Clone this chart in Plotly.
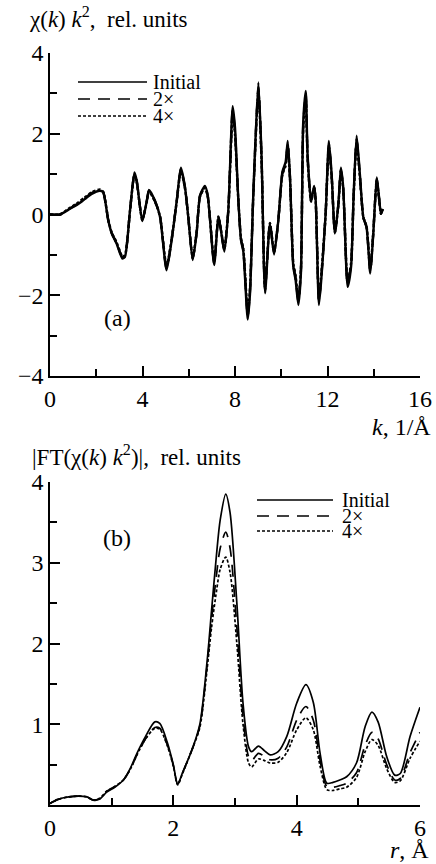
import plotly.graph_objects as go

# ---------------- Panel (a): chi(k) k^2 ----------------
k_a = [0, 0.43, 0.8, 1.22, 1.5, 1.8, 2.16, 2.3, 2.52, 2.67, 2.88, 3.13, 3.24, 3.46, 3.65, 3.75,
       3.99, 4.18, 4.28, 4.54, 4.76, 5.04, 5.26, 5.48, 5.66, 5.84, 5.98, 6.17, 6.34, 6.49, 6.7,
       6.82, 7.1, 7.28, 7.39, 7.54, 7.71, 7.9, 8.0, 8.14, 8.26, 8.36, 8.55, 8.65, 8.79, 9.01,
       9.15, 9.3, 9.51, 9.69, 9.87, 10.05, 10.19, 10.28, 10.38, 10.52, 10.62, 10.74, 10.85,
       10.95, 11.06, 11.14, 11.29, 11.42, 11.49, 11.63, 11.75, 11.92, 12.06, 12.18, 12.32,
       12.47, 12.58, 12.68, 12.87, 13.02, 13.13, 13.26, 13.41, 13.55, 13.69, 13.85, 13.98,
       14.13, 14.23, 14.31, 14.39]
chi_init = [0, 0, 0.12, 0.26, 0.38, 0.51, 0.59, 0.55, -0.15, -0.47, -0.72, -1.09, -1.05, 0.1,
            1.04, 0.84, -0.16, 0.32, 0.61, 0.34, -0.06, -1.38, -0.64, 0.34, 1.16, 0.67, -0.07,
            -1.13, -0.47, 0.48, 0.71, 0.48, -1.25, -0.06, -0.39, -0.92, 0.1, 2.68, 2.15, 0.42,
            -0.64, -0.92, -2.6, -1.95, 0.48, 3.27, 1.42, -1.95, -0.23, -0.99, -0.17, 1.06, 1.3,
            1.82, 0.92, -1.29, -1.62, -2.24, -1.46, 2.29, 3.06, 1.47, 0.34, 0.71, 0.34, -2.24,
            -1.46, 0.02, 1.82, 0.99, -0.47, 0.26, 1.16, 0.67, -1.79, -1.29, 0.48, 1.95, 0.92,
            -0.07, -0.32, -1.46, -0.47, 0.92, 0.42, 0.02, 0.14]
chi_2x = [0, 0, 0.13, 0.28, 0.4, 0.53, 0.6, 0.55, -0.14, -0.46, -0.7, -1.06, -1.03, 0.1,
          1.0, 0.82, -0.14, 0.31, 0.59, 0.33, -0.06, -1.33, -0.62, 0.33, 1.12, 0.65, -0.06,
          -1.09, -0.45, 0.46, 0.68, 0.46, -1.2, -0.06, -0.37, -0.88, 0.1, 2.58, 2.05, 0.4,
          -0.61, -0.88, -2.5, -1.87, 0.46, 3.15, 1.36, -1.87, -0.22, -0.95, -0.16, 1.02, 1.25,
          1.74, 0.88, -1.24, -1.56, -2.14, -1.4, 2.2, 2.95, 1.41, 0.33, 0.68, 0.33, -2.14,
          -1.4, 0.02, 1.74, 0.95, -0.45, 0.25, 1.11, 0.64, -1.71, -1.23, 0.46, 1.86, 0.88,
          -0.07, -0.31, -1.4, -0.45, 0.88, 0.4, 0.02, 0.13]
chi_4x = [0, 0, 0.14, 0.3, 0.42, 0.55, 0.62, 0.56, -0.13, -0.45, -0.69, -1.04, -1.01, 0.09,
          0.97, 0.8, -0.13, 0.3, 0.57, 0.32, -0.05, -1.29, -0.6, 0.32, 1.09, 0.63, -0.06,
          -1.06, -0.44, 0.45, 0.66, 0.45, -1.16, -0.05, -0.36, -0.85, 0.09, 2.5, 1.98, 0.39,
          -0.59, -0.85, -2.42, -1.81, 0.45, 3.05, 1.32, -1.81, -0.21, -0.92, -0.16, 0.99, 1.21,
          1.69, 0.85, -1.2, -1.51, -2.08, -1.36, 2.13, 2.86, 1.37, 0.32, 0.66, 0.32, -2.08,
          -1.36, 0.02, 1.69, 0.92, -0.44, 0.24, 1.08, 0.62, -1.66, -1.2, 0.45, 1.8, 0.85,
          -0.07, -0.3, -1.36, -0.44, 0.85, 0.39, 0.02, 0.13]

# ---------------- Panel (b): |FT(chi(k) k^2)| ----------------
r_b = [0, 0.13, 0.3, 0.46, 0.6, 0.7, 0.8, 0.92, 1.05, 1.19, 1.3, 1.41, 1.55, 1.7, 1.78, 1.9,
       2.0, 2.07, 2.15, 2.32, 2.43, 2.55, 2.62, 2.7, 2.76, 2.85, 2.92, 3.03, 3.13, 3.22, 3.27,
       3.38, 3.48, 3.57, 3.7, 3.84, 4.0, 4.15, 4.27, 4.38, 4.49, 4.59, 4.7, 4.81, 4.97, 5.11,
       5.22, 5.32, 5.46, 5.59, 5.68, 5.84, 6.0]
ft_init = [0.02, 0.07, 0.1, 0.11, 0.1, 0.06, 0.07, 0.16, 0.22, 0.31, 0.45, 0.64, 0.85, 1.03,
           1.01, 0.78, 0.5, 0.26, 0.4, 0.72, 1.0, 1.8, 2.41, 3.1, 3.53, 3.85, 3.62, 2.5, 1.26,
           0.72, 0.66, 0.73, 0.67, 0.62, 0.66, 0.85, 1.26, 1.49, 1.27, 0.64, 0.27, 0.28, 0.31,
           0.35, 0.52, 0.97, 1.15, 1.03, 0.6, 0.37, 0.39, 0.85, 1.21]
ft_2x = [0.02, 0.07, 0.1, 0.11, 0.1, 0.06, 0.08, 0.17, 0.23, 0.31, 0.44, 0.62, 0.82, 0.96,
         0.95, 0.75, 0.49, 0.26, 0.4, 0.72, 0.98, 1.75, 2.3, 2.85, 3.18, 3.38, 3.18, 2.2, 1.1,
         0.6, 0.55, 0.64, 0.6, 0.56, 0.58, 0.72, 1.05, 1.22, 1.05, 0.55, 0.23, 0.22, 0.24,
         0.27, 0.4, 0.74, 0.9, 0.82, 0.5, 0.31, 0.33, 0.65, 0.9]
ft_4x = [0.02, 0.07, 0.1, 0.11, 0.1, 0.06, 0.08, 0.17, 0.23, 0.31, 0.44, 0.62, 0.82, 0.95,
         0.94, 0.74, 0.48, 0.25, 0.39, 0.72, 0.96, 1.7, 2.2, 2.65, 2.92, 3.07, 2.88, 2.0, 1.0,
         0.52, 0.47, 0.57, 0.55, 0.52, 0.53, 0.65, 0.93, 1.08, 0.93, 0.48, 0.19, 0.18, 0.2,
         0.22, 0.34, 0.66, 0.81, 0.74, 0.45, 0.28, 0.3, 0.58, 0.79]

series_names = ["Initial", "2×", "4×"]
dashes = ["solid", "12px,8px", "3px,2px"]

FONT = "Liberation Serif"
W, H = 436, 864

def px(x):
    return x / W

def py(y):
    return 1 - y / H

fig = go.Figure()
for name, ys, d in zip(series_names, [chi_init, chi_2x, chi_4x], dashes):
    fig.add_trace(go.Scatter(x=k_a, y=ys, mode="lines", name=name, xaxis="x", yaxis="y",
                             line=dict(color="black", width=2.4, dash=d, shape="spline", smoothing=0.6),
                             showlegend=False))
for name, ys, d in zip(series_names, [ft_init, ft_2x, ft_4x], dashes):
    fig.add_trace(go.Scatter(x=r_b, y=ys, mode="lines", name=name, xaxis="x2", yaxis="y2",
                             line=dict(color="black", width=1.7, dash=d, shape="spline", smoothing=0.8),
                             showlegend=False))

def axis_common():
    return dict(showline=True, linecolor="black", linewidth=1.5, ticks="inside",
                tickcolor="black", tickwidth=1.5, ticklen=10, showgrid=False, zeroline=False,
                automargin=False,
                tickfont=dict(family=FONT, size=24, color="black"), mirror=False)

def minor(vals):
    return dict(tickvals=vals, ticks="inside", ticklen=7, tickcolor="black", tickwidth=1.5)

dom_x = [px(50), px(420)]
fig.update_layout(
    template="none",
    width=W, height=H, margin=dict(l=0, r=0, t=0, b=0, pad=0, autoexpand=False),
    paper_bgcolor="white", plot_bgcolor="white",
    font=dict(family=FONT, color="black", size=20),
    xaxis=dict(domain=dom_x, range=[0, 16], tickvals=[0, 4, 8, 12, 16], anchor="y",
               minor=minor([2, 6, 10, 14]), **axis_common()),
    yaxis=dict(domain=[py(376), py(53)], range=[-4, 4], tickvals=[-4, -2, 0, 2, 4], anchor="x",
               minor=minor([-3, -1, 1, 3]), **axis_common()),
    xaxis2=dict(domain=dom_x, range=[0, 6], tickvals=[0, 2, 4, 6], anchor="y2",
                minor=minor([1, 3, 5]), **axis_common()),
    yaxis2=dict(domain=[py(805), py(482)], range=[0, 4], tickvals=[1, 2, 3, 4], anchor="x2",
                minor=minor([0.5, 1.5, 2.5, 3.5]), **axis_common()),
)

annotations = [
    dict(text="χ(<i>k</i>) <i>k</i><sup>2</sup>,  rel. units", x=px(27), y=py(17),
         xanchor="left", yanchor="middle", size=23),
    dict(text="<i>k</i>, 1/Å", x=px(433), y=py(427), xanchor="right", yanchor="middle", size=24),
    dict(text="(a)", x=px(117), y=py(318), xanchor="center", yanchor="middle", size=24),
    dict(text="|FT(χ(<i>k</i>) <i>k</i><sup>2</sup>)|,  rel. units", x=px(30), y=py(455),
         xanchor="left", yanchor="middle", size=23),
    dict(text="(b)", x=px(117), y=py(538), xanchor="center", yanchor="middle", size=24),
    dict(text="<i>r</i>, Å", x=px(431), y=py(850), xanchor="right", yanchor="middle", size=24),
]

shapes = []
legend_a = dict(x0=78, x1=147, ys=[82, 99, 116], tx=151)
legend_b = dict(x0=257, x1=333, ys=[500, 516, 531], tx=340)
for leg in (legend_a, legend_b):
    for name, d, yy in zip(series_names, dashes, leg["ys"]):
        shapes.append(dict(type="line", xref="paper", yref="paper", x0=px(leg["x0"]), x1=px(leg["x1"]),
                           y0=py(yy), y1=py(yy), line=dict(color="black", width=1.6, dash=d)))
        annotations.append(dict(text=name, x=px(leg["tx"]), y=py(yy), xanchor="left", yanchor="middle",
                                size=20))

final_ann = []
for a in annotations:
    size = a.pop("size")
    a.update(xref="paper", yref="paper", showarrow=False,
             font=dict(family=FONT, color="black", size=size))
    final_ann.append(a)

fig.update_layout(annotations=final_ann, shapes=shapes)
fig.write_html("out.html", config={"displayModeBar": False},
               post_script="document.body.style.margin='0';document.body.style.padding='0';"
                           "document.documentElement.style.overflow='hidden';")
